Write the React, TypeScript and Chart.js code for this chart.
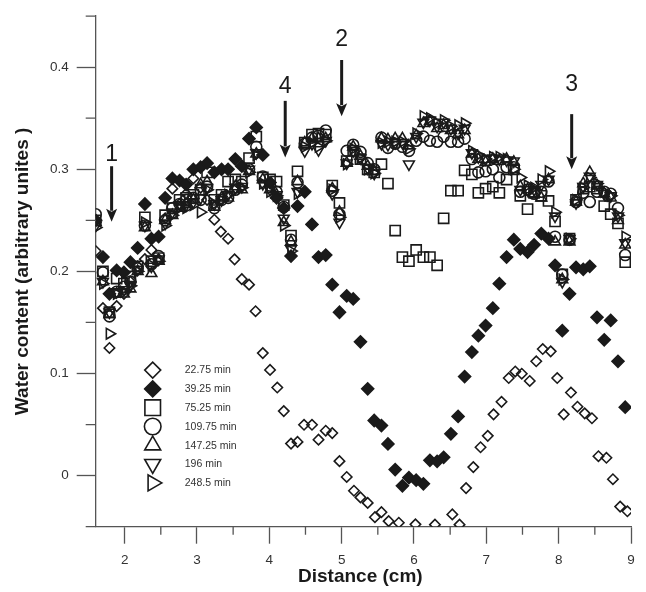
import React, { useEffect, useRef } from 'react';
import { Chart, registerables } from 'chart.js';

Chart.register(...registerables);

// ---------- data ----------
const gridX = [
  1.60, 1.70, 1.79, 1.89, 1.99, 2.08, 2.18, 2.28, 2.37, 2.47, 2.56, 2.66, 2.76, 2.85, 2.95,
  3.05, 3.14, 3.24, 3.34, 3.43, 3.53, 3.62, 3.72, 3.82, 3.91, 4.01, 4.10, 4.20, 4.30, 4.39,
  4.49, 4.59, 4.68, 4.78, 4.87, 4.97, 5.07, 5.16, 5.26, 5.36, 5.45, 5.55, 5.64, 5.74, 5.84,
  5.93, 6.03, 6.13, 6.22, 6.32, 6.41, 6.51, 6.61, 6.70, 6.80, 6.89, 6.99, 7.09, 7.18, 7.28,
  7.38, 7.47, 7.57, 7.66, 7.76, 7.86, 7.95, 8.05, 8.15, 8.24, 8.34, 8.43, 8.53, 8.63, 8.72,
  8.82, 8.92,
];

const x2275 = [
  1.60, 1.70, 1.79, 1.89, 1.99, 2.08, 2.18, 2.28, 2.37, 2.47, 2.56, 2.66, 2.76, 2.85, 2.95,
  3.05, 3.14, 3.24, 3.33, 3.43, 3.52, 3.62, 3.72, 3.81, 3.91,
  4.01, 4.11, 4.20, 4.30, 4.39, 4.48, 4.59, 4.68, 4.78, 4.87,
  4.97, 5.07, 5.17, 5.26, 5.36, 5.46, 5.55, 5.65, 5.79, 6.02,
  6.29, 6.53, 6.63, 6.72, 6.82, 6.92, 7.02, 7.10, 7.21, 7.31,
  7.40, 7.49, 7.60, 7.69, 7.78, 7.89, 7.98, 8.07, 8.17, 8.26,
  8.36, 8.46, 8.55, 8.66, 8.75, 8.85, 8.95,
];
const y2275 = [
  0.220, 0.164, 0.125, 0.166, 0.178, 0.190, 0.205, 0.212, 0.221, 0.212, 0.252, 0.281, 0.266, 0.276, 0.291,
  0.282, 0.270, 0.2506, 0.239, 0.232, 0.2118, 0.1924, 0.187, 0.161, 0.120,
  0.1035, 0.0863, 0.0632, 0.0314, 0.033, 0.0498, 0.0498, 0.0352, 0.044, 0.0417,
  0.0142, -0.0013, -0.0148, -0.0213, -0.0267, -0.0407, -0.0358, -0.0446, -0.0461, -0.0477,
  -0.048, -0.038, -0.048, -0.0122, 0.0084, 0.0278, 0.039, 0.060, 0.0723, 0.0956,
  0.102, 0.0998, 0.0927, 0.112, 0.124, 0.1217, 0.0956, 0.060, 0.0814, 0.0675,
  0.061, 0.0562, 0.019, 0.0175, -0.0035, -0.0303, -0.0349,
];

const y3925 = [
  0.250, 0.214, 0.178, 0.201, 0.199, 0.209, 0.223, 0.266, 0.232, 0.234, 0.272, 0.291, 0.289, 0.285, 0.300,
  0.302, 0.306, 0.297, 0.300, 0.300, 0.310, 0.303, 0.330, 0.341, 0.314, 0.287, 0.272, 0.262, 0.215, 0.264,
  0.278, 0.246, 0.214, 0.216, 0.187, 0.160, 0.176, 0.173, 0.131, 0.085, 0.054, 0.049, 0.031, 0.006, -0.010,
  -0.002, -0.0045, -0.008, 0.015, 0.014, 0.018, 0.041, 0.058, 0.097, 0.121, 0.137, 0.147, 0.164, 0.188, 0.214,
  0.231, 0.222, 0.219, 0.226, 0.237, 0.232, 0.206, 0.142, 0.178, 0.204, 0.202, 0.205, 0.155, 0.133, 0.152,
  0.112, 0.067,
];

const y7525 = [
  0.250, 0.200, 0.160, 0.193, 0.188, 0.195, 0.205, 0.253, 0.210, 0.213, 0.255, 0.262, 0.270, 0.272, 0.275,
  0.280, 0.297, 0.270, 0.275, 0.288, 0.290, 0.288, 0.311, 0.332, 0.292, 0.290, 0.288, 0.265, 0.235, 0.298,
  0.326, 0.334, 0.335, 0.334, 0.284, 0.267, 0.308, 0.318, 0.310, 0.300, 0.297, 0.305, 0.286, 0.240, 0.214,
  0.210, 0.221, 0.214, 0.214, 0.206, 0.252, 0.279, 0.279, 0.299, 0.295, 0.277, 0.281, 0.283, 0.277, 0.290,
  0.300, 0.274, 0.261, 0.277, 0.274, 0.269, 0.249, 0.197, 0.232, 0.270, 0.281, 0.283, 0.281, 0.264, 0.256,
  0.247, 0.209,
];

const y10975 = [
  0.256, 0.199, 0.156, 0.180, 0.185, 0.190, 0.203, 0.245, 0.207, 0.215, 0.250, 0.262, 0.266, 0.270, 0.272,
  0.270, 0.283, 0.262, 0.270, 0.272, 0.280, 0.285, 0.300, 0.322, 0.293, 0.284, 0.278, 0.263, 0.231, 0.287,
  0.325, 0.331, 0.333, 0.338, 0.279, 0.256, 0.318, 0.324, 0.317, 0.306, 0.300, 0.331, 0.321, 0.325, 0.322,
  0.318, 0.328, 0.332, 0.328, 0.327, 0.332, 0.327, 0.327, 0.330, 0.310, 0.297, 0.298, 0.300, 0.292, 0.302,
  0.302, 0.278, 0.280, 0.276, 0.278, 0.288, 0.234, 0.197, 0.231, 0.268, 0.277, 0.268, 0.278, 0.278, 0.276,
  0.262, 0.216,
];

const y14725 = [
  0.248, 0.190, 0.158, 0.178, 0.178, 0.183, 0.200, 0.243, 0.198, 0.210, 0.250, 0.255, 0.262, 0.266, 0.270,
  0.285, 0.288, 0.263, 0.272, 0.272, 0.283, 0.280, 0.298, 0.315, 0.290, 0.280, 0.275, 0.248, 0.229, 0.288,
  0.326, 0.330, 0.330, 0.330, 0.281, 0.258, 0.306, 0.322, 0.313, 0.303, 0.298, 0.330, 0.329, 0.330, 0.330,
  0.323, 0.333, 0.345, 0.347, 0.340, 0.343, 0.338, 0.334, 0.338, 0.315, 0.310, 0.307, 0.310, 0.308, 0.310,
  0.307, 0.283, 0.280, 0.276, 0.272, 0.290, 0.229, 0.192, 0.229, 0.268, 0.286, 0.297, 0.284, 0.276, 0.272,
  0.250, 0.226,
];

const y196 = [
  0.245, 0.190, 0.160, 0.180, 0.182, 0.186, 0.202, 0.245, 0.205, 0.212, 0.247, 0.258, 0.265, 0.265, 0.268,
  0.272, 0.282, 0.266, 0.270, 0.275, 0.282, 0.283, 0.300, 0.316, 0.286, 0.280, 0.275, 0.252, 0.222, 0.278,
  0.318, 0.325, 0.319, 0.328, 0.276, 0.248, 0.306, 0.318, 0.311, 0.301, 0.296, 0.325, 0.324, 0.326, 0.326,
  0.305, 0.332, 0.346, 0.348, 0.342, 0.346, 0.340, 0.335, 0.340, 0.316, 0.312, 0.310, 0.311, 0.310, 0.309,
  0.308, 0.280, 0.280, 0.280, 0.285, 0.290, 0.254, 0.190, 0.232, 0.267, 0.283, 0.293, 0.285, 0.276, 0.274,
  0.254, 0.228,
];

const y2485 = [
  0.243, 0.188, 0.139, 0.178, 0.180, 0.186, 0.200, 0.248, 0.206, 0.210, 0.245, 0.255, 0.262, 0.262, 0.265,
  0.258, 0.280, 0.266, 0.270, 0.275, 0.280, 0.282, 0.297, 0.314, 0.286, 0.278, 0.274, 0.245, 0.220, 0.276,
  0.322, 0.326, 0.322, 0.328, 0.280, 0.253, 0.305, 0.320, 0.311, 0.300, 0.296, 0.326, 0.327, 0.327, 0.327,
  0.320, 0.335, 0.352, 0.350, 0.345, 0.348, 0.342, 0.343, 0.345, 0.318, 0.314, 0.310, 0.312, 0.312, 0.310,
  0.300, 0.292, 0.284, 0.282, 0.290, 0.298, 0.258, 0.192, 0.232, 0.270, 0.282, 0.292, 0.286, 0.278, 0.274,
  0.255, 0.234,
];

const seriesLabels = ['22.75 min', '39.25 min', '75.25 min', '109.75 min', '147.25 min', '196 min', '248.5 min'];

const xTickValues = [2, 3, 4, 5, 6, 7, 8, 9];
const xMinorTicks = [2.5, 3.5, 4.5, 5.5, 6.5, 7.5, 8.5];
const yTickValues = [0, 0.1, 0.2, 0.3, 0.4];
const yMinorTicks = [-0.05, 0.05, 0.15, 0.25, 0.35, 0.45];

const arrowLabels = ['1', '4', '2', '3'];
const arrowX = [1.82, 4.22, 5.0, 8.18];
const arrowTop = [0.303, 0.367, 0.407, 0.354];
const arrowTip = [0.2486, 0.3116, 0.352, 0.3];
const arrowLabelY = [0.314, 0.381, 0.427, 0.383];

// ---------- styles ----------
const INK = '#1a1a1a';
const AXIS = '#555555';
const FONT = '"Liberation Sans", Arial, Helvetica, sans-serif';

const zip = (xs: number[], ys: number[]) => ys.map((y, i) => ({ x: xs[i], y }));

type Shape = 'diamond' | 'square' | 'circle' | 'triUp' | 'triDown' | 'triRight';
const legendShapes: { shape: Shape; fill: boolean }[] = [
  { shape: 'diamond', fill: false },
  { shape: 'diamond', fill: true },
  { shape: 'square', fill: false },
  { shape: 'circle', fill: false },
  { shape: 'triUp', fill: false },
  { shape: 'triDown', fill: false },
  { shape: 'triRight', fill: false },
];

function drawShape(ctx: CanvasRenderingContext2D, shape: Shape, x: number, y: number, fill: boolean) {
  ctx.beginPath();
  if (shape === 'diamond') {
    const r = 8;
    ctx.moveTo(x - r, y); ctx.lineTo(x, y - r); ctx.lineTo(x + r, y); ctx.lineTo(x, y + r); ctx.closePath();
  } else if (shape === 'square') {
    const h = 7.8;
    ctx.rect(x - h, y - h, 2 * h, 2 * h);
  } else if (shape === 'circle') {
    ctx.arc(x, y, 8.3, 0, Math.PI * 2);
  } else {
    const r = 9.2;
    let rad = shape === 'triUp' ? 0 : shape === 'triDown' ? Math.PI : Math.PI / 2;
    ctx.moveTo(x + Math.sin(rad) * r, y - Math.cos(rad) * r);
    rad += (2 * Math.PI) / 3;
    ctx.lineTo(x + Math.sin(rad) * r, y - Math.cos(rad) * r);
    rad += (2 * Math.PI) / 3;
    ctx.lineTo(x + Math.sin(rad) * r, y - Math.cos(rad) * r);
    ctx.closePath();
  }
  if (fill) { ctx.fillStyle = INK; ctx.fill(); }
  ctx.stroke();
}

const decorPlugin = {
  id: 'decor',
  afterDraw(chart: any) {
    const { ctx, chartArea } = chart;
    const xs = chart.scales.x;
    const ys = chart.scales.y;
    ctx.save();
    // minor ticks
    ctx.strokeStyle = AXIS;
    ctx.lineWidth = 1.3;
    ctx.beginPath();
    yMinorTicks.forEach((v) => {
      const py = ys.getPixelForValue(v);
      ctx.moveTo(chartArea.left - 10, py);
      ctx.lineTo(chartArea.left, py);
    });
    xMinorTicks.forEach((v) => {
      const px = xs.getPixelForValue(v);
      ctx.moveTo(px, chartArea.bottom);
      ctx.lineTo(px, chartArea.bottom + 8);
    });
    ctx.stroke();

    // arrows
    arrowX.forEach((xv, i) => {
      const px = xs.getPixelForValue(xv);
      const top = ys.getPixelForValue(arrowTop[i]);
      const tip = ys.getPixelForValue(arrowTip[i]);
      const head = 13;
      ctx.strokeStyle = INK;
      ctx.lineWidth = 3;
      ctx.beginPath();
      ctx.moveTo(px, top);
      ctx.lineTo(px, tip - head + 2);
      ctx.stroke();
      ctx.fillStyle = INK;
      ctx.beginPath();
      ctx.moveTo(px - 5.5, tip - head);
      ctx.lineTo(px, tip - head + 3);
      ctx.lineTo(px + 5.5, tip - head);
      ctx.lineTo(px, tip);
      ctx.closePath();
      ctx.fill();
      ctx.font = `23px ${FONT}`;
      ctx.textAlign = 'center';
      ctx.textBaseline = 'middle';
      ctx.fillText(arrowLabels[i], px, ys.getPixelForValue(arrowLabelY[i]));
    });

    // legend
    const symX = chartArea.left + 57;
    const txtX = chartArea.left + 89;
    const row0 = chartArea.top + 354;
    const step = 18.8;
    ctx.strokeStyle = INK;
    ctx.lineWidth = 1.6;
    legendShapes.forEach((s, i) => {
      const yy = row0 + i * step;
      drawShape(ctx, s.shape, symX, yy, s.fill);
      ctx.fillStyle = '#333';
      ctx.font = `10.5px ${FONT}`;
      ctx.textAlign = 'left';
      ctx.textBaseline = 'middle';
      ctx.fillText(seriesLabels[i], txtX, yy + 0.5);
    });

    // axis titles
    ctx.fillStyle = INK;
    ctx.font = `bold 19px ${FONT}`;
    ctx.textAlign = 'center';
    ctx.textBaseline = 'middle';
    ctx.fillText('Distance (cm)', (chartArea.left + chartArea.right) / 2 - 3, 577);
    ctx.save();
    ctx.translate(23, (chartArea.top + chartArea.bottom) / 2);
    ctx.rotate(-Math.PI / 2);
    ctx.fillText('Water content (arbitrary unites )', 0, 0);
    ctx.restore();

    ctx.restore();
  },
};

export default function App() {
  const ref = useRef<HTMLCanvasElement>(null);

  useEffect(() => {
    if (!ref.current) return;
    Chart.defaults.font.family = FONT;
    const open = 'rgba(0,0,0,0)';
    const common = { showLine: false, borderColor: INK, borderWidth: 1.6, pointBorderWidth: 1.6 };
    const chart = new Chart(ref.current, {
      type: 'scatter',
      data: {
        datasets: [
          { ...common, label: seriesLabels[0], data: zip(x2275, y2275), pointStyle: 'rectRot', pointRadius: 5.2, backgroundColor: open, pointBackgroundColor: open },
          { ...common, label: seriesLabels[1], data: zip(gridX, y3925), pointStyle: 'rectRot', pointRadius: 6, backgroundColor: INK, pointBackgroundColor: INK },
          { ...common, label: seriesLabels[2], data: zip(gridX, y7525), pointStyle: 'rect', pointRadius: 7.2, backgroundColor: open, pointBackgroundColor: open },
          { ...common, label: seriesLabels[3], data: zip(gridX, y10975), pointStyle: 'circle', pointRadius: 5.5, backgroundColor: open, pointBackgroundColor: open },
          { ...common, label: seriesLabels[4], data: zip(gridX, y14725), pointStyle: 'triangle', pointRadius: 6.2, backgroundColor: open, pointBackgroundColor: open },
          { ...common, label: seriesLabels[5], data: zip(gridX, y196), pointStyle: 'triangle', pointRotation: 180, pointRadius: 6.2, backgroundColor: open, pointBackgroundColor: open },
          { ...common, label: seriesLabels[6], data: zip(gridX, y2485), pointStyle: 'triangle', pointRotation: 90, pointRadius: 6.2, backgroundColor: open, pointBackgroundColor: open },
        ] as any,
      },
      options: {
        animation: false,
        responsive: true,
        maintainAspectRatio: false,
        layout: { padding: { top: 10, right: 15, left: 0, bottom: 0 } },
        plugins: { legend: { display: false }, tooltip: { enabled: false } },
        events: [],
        scales: {
          x: {
            type: 'linear',
            min: 1.6,
            max: 9,
            afterFit: (scale: any) => { scale.height = 65.3; },
            afterBuildTicks: (scale: any) => { scale.ticks = xTickValues.map((v) => ({ value: v })); },
            grid: { drawOnChartArea: false, drawTicks: true, tickLength: 17, tickColor: AXIS, tickWidth: 1.3 },
            border: { display: true, color: AXIS, width: 1.3 },
            ticks: {
              autoSkip: false,
              maxRotation: 0,
              padding: 8,
              color: '#333',
              font: { size: 13.5, family: FONT },
              callback: (v: any) => String(v),
            },
          },
          y: {
            type: 'linear',
            min: -0.05,
            max: 0.45,
            afterFit: (scale: any) => { scale.width = 95.7; },
            afterBuildTicks: (scale: any) => { scale.ticks = yTickValues.map((v) => ({ value: v })); },
            grid: { drawOnChartArea: false, drawTicks: true, tickLength: 19, tickColor: AXIS, tickWidth: 1.3 },
            border: { display: true, color: AXIS, width: 1.3 },
            ticks: {
              autoSkip: false,
              padding: 8,
              color: '#333',
              font: { size: 13.5, family: FONT },
              callback: (v: any) => (Number(v) === 0 ? '0' : Number(v).toFixed(1)),
            },
          },
        },
      } as any,
      plugins: [decorPlugin],
    });
    return () => chart.destroy();
  }, []);

  return (
    <div style={{ position: 'absolute', left: 0, top: 0, width: 646, height: 592, background: '#fff' }}>
      <canvas ref={ref} />
    </div>
  );
}
